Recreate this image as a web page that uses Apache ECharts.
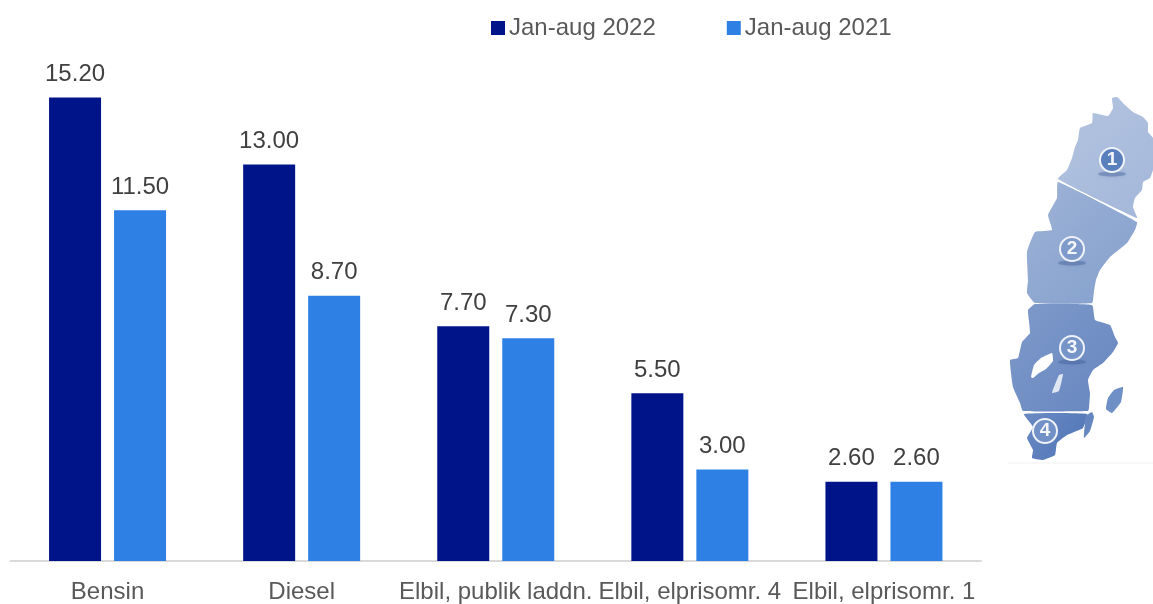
<!DOCTYPE html>
<html>
<head>
<meta charset="utf-8">
<style>html,body{margin:0;padding:0;background:#fff}#chart{width:1153px;height:604px}</style>
<script src="https://cdn.jsdelivr.net/npm/echarts@6/dist/echarts.min.js"></script>
</head>
<body>
<div id="chart"></div>
<script>
// Fuel cost per category, January to August
const categories = ['Bensin', 'Diesel', 'Elbil, publik laddn.', 'Elbil, elprisomr. 4', 'Elbil, elprisomr. 1'];
const seriesNames = ['Jan-aug 2022', 'Jan-aug 2021'];
const values2022 = [15.20, 13.00, 7.70, 5.50, 2.60];
const values2021 = [11.50, 8.70, 7.30, 3.00, 2.60];

const FONT = '"Liberation Sans", Arial, sans-serif';
const DARK = '#00148a';
const LIGHT = '#2f80e5';

// Electricity price regions of Sweden, drawn as a small inset map
const zone1 = [[1112,98],[1117,97],[1125,105],[1133,112],[1143,117],[1148,123],[1148,132],[1153,138],[1153,153],[1153,170],[1150,178],[1143,182],[1142,190],[1135,198],[1133,207],[1137,218],[1058,179],[1067,170],[1072,158],[1075,147],[1078,140],[1080,128],[1092,123],[1093,113],[1108,116],[1113,108]];
const zone2 = [[1058,182],[1137,222],[1135,230],[1127,243],[1110,257],[1100,270],[1096,280],[1094,291],[1092,303],[1035,303],[1027,293],[1028,280],[1027,252],[1035,232],[1052,230],[1048,215],[1057,198]];
const zone3 = [[1035,304],[1092,305],[1095,320],[1110,325],[1115,337],[1118,343],[1113,352],[1103,363],[1093,370],[1088,380],[1090,393],[1089,408],[1088,411],[1023,411],[1020,403],[1013,387],[1010,360],[1018,358],[1022,342],[1030,333],[1028,310]];
const zone4 = [[1024,414],[1087,414],[1083,428],[1067,435],[1057,443],[1055,455],[1043,460],[1032,458],[1033,450],[1027,438],[1033,427]];
const gotland = [[1108,398],[1114,390],[1123,387],[1121,402],[1112,413],[1106,409]];
const oland = [[1084,438],[1086,416],[1092,412],[1094,417],[1090,431]];
const vanern = [[1031,377],[1034,365],[1041,358],[1052,353],[1053,361],[1046,369],[1039,373],[1033,378]];
const vattern = [[1052,393],[1059,375],[1063,374],[1059,391]];
const badges = [['1', 1112, 160, true], ['2', 1072, 249, true], ['3', 1072, 348, true], ['4', 1045, 431, false]];

function zoneGradient(a, b) {
  return new echarts.graphic.LinearGradient(0, 0, 1, 1, [{offset: 0, color: a}, {offset: 1, color: b}]);
}
function zoneShape(points, fill) {
  return {type: 'polygon', silent: true, shape: {points, smooth: 0.12}, style: {fill}};
}

const mapParts = [
  {type: 'line', silent: true, shape: {x1: 1008, y1: 463, x2: 1153, y2: 463}, style: {stroke: '#f1f1f1', lineWidth: 1}},
  zoneShape(zone1, zoneGradient('#b4c4e0', '#a3b7da')),
  zoneShape(zone2, zoneGradient('#9eb2d6', '#83a0cd')),
  zoneShape(zone3, zoneGradient('#7f9aca', '#6686c0')),
  zoneShape(zone4, zoneGradient('#6a8ac3', '#4f74b6')),
  zoneShape(gotland, '#6f90c6'),
  zoneShape(oland, '#6686c0'),
  zoneShape(vanern, '#ffffff'),
  zoneShape(vattern, '#dfe7f3')
];
badges.forEach(([label, x, y, shadow]) => {
  if (shadow) {
    mapParts.push({type: 'ellipse', silent: true, shape: {cx: x, cy: y + 14, rx: 14, ry: 2.5},
      style: {fill: 'rgba(62,92,150,0.4)', shadowBlur: 5, shadowColor: 'rgba(62,92,150,0.5)'}});
  }
  mapParts.push({type: 'circle', silent: true, shape: {cx: x, cy: y, r: 12},
    style: {fill: label === '1' ? '#5a7fbd' : 'rgba(120,150,200,0.75)', stroke: '#eef2f9', lineWidth: 2}});
  mapParts.push({type: 'text', silent: true, x, y,
    style: {text: label, fill: '#f4f6fb', font: 'bold 19px ' + FONT, align: 'center', verticalAlign: 'middle'}});
});

function barSeries(name, data, color) {
  return {
    name, type: 'bar', data, barWidth: 52, barGap: '25%',
    itemStyle: {color},
    label: {show: true, position: 'top', distance: 11, formatter: p => p.value.toFixed(2),
      color: '#404040', fontFamily: FONT, fontSize: 24}
  };
}

const chart = echarts.init(document.getElementById('chart'), null, {renderer: 'canvas'});
chart.setOption({
  animation: false,
  backgroundColor: '#ffffff',
  grid: {left: 10.5, right: 172, top: 73, bottom: 42.5, containLabel: false},
  legend: {
    data: seriesNames, left: 486, top: 11, icon: 'rect', itemWidth: 14, itemHeight: 14, itemGap: 71,
    textStyle: {color: '#595959', fontFamily: FONT, fontSize: 24, padding: [0, 0, 0, -1]}
  },
  xAxis: {
    type: 'category', data: categories,
    axisTick: {show: false},
    axisLine: {lineStyle: {color: '#d9d9d9', width: 2}},
    axisLabel: {interval: 0, color: '#595959', fontFamily: FONT, fontSize: 24, margin: 19, hideOverlap: false}
  },
  yAxis: {type: 'value', min: 0, max: 16, interval: 2, show: false, splitLine: {show: false}},
  series: [barSeries(seriesNames[0], values2022, DARK), barSeries(seriesNames[1], values2021, LIGHT)],
  graphic: {elements: mapParts}
});
</script>
</body>
</html>
